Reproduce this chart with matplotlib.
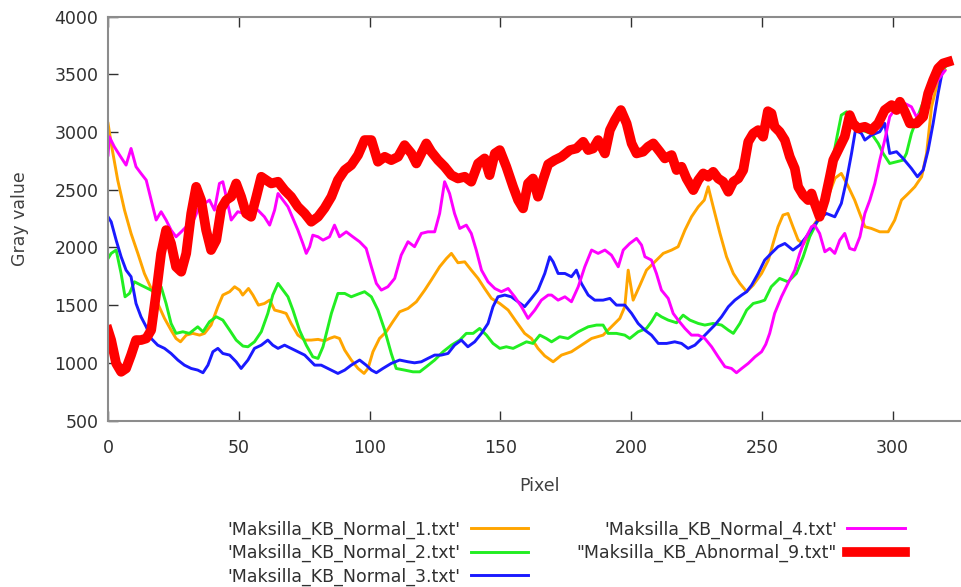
import matplotlib
matplotlib.use("Agg")
import matplotlib.pyplot as plt

# gray value profiles along the maxilla line (pixel position, gray value)
px_n1 = [0, 1.2, 3.7, 6.3, 8.8, 11.4, 13.9, 16.5, 19, 21.6, 24.1, 26, 27.7, 29.9, 32.4, 35, 36.9, 39.4,
         42, 43.9, 46.5, 48.4, 50.3, 51.5, 53.7, 55.4, 57.5, 59.8, 61.8, 63.7, 66.2, 68.1, 70, 72.6,
         75.2, 77.7, 80.3, 82.8, 84.7, 86.6, 88.5, 90.5, 93, 95.6, 97.9, 99.4, 101.3, 103.8, 106.4,
         108.9, 111.5, 114.7, 117.9, 121.1, 123.6, 126.8, 129.4, 131.3, 133.8, 136.4, 138.9, 141.5,
         144, 146.6, 149.8, 153, 156.1, 159.3, 161.9, 164.4, 167, 170.2, 173.4, 177.2, 181, 184.9,
         189.3, 192.5, 195.7, 197.6, 198.9, 200.8, 203.4, 205.9, 209.1, 212.3, 215.5, 218, 220.6,
         223.1, 225.7, 228, 229.5, 231.4, 234, 236.5, 239.1, 241.6, 244.2, 246.7, 249.9, 252.5,
         254.5, 256.2, 258.1, 260, 261.9, 263.9, 266, 269.5, 272, 275, 278, 280.4, 283, 285.5,
         287.5, 289.4, 291.9, 295.1, 298.3, 300.8, 303.4, 306, 308.5, 311.1, 313, 314.9, 316.8,
         318.7, 320]
val_n1 = [3074, 2900, 2583, 2323, 2121, 1948, 1774, 1644, 1514, 1385, 1283, 1211, 1182, 1240, 1255,
          1240, 1255, 1327, 1486, 1587, 1616, 1659, 1630, 1587, 1644, 1587, 1500, 1514, 1543, 1457,
          1442, 1428, 1341, 1240, 1197, 1197, 1203, 1190, 1211, 1226, 1211, 1110, 1024, 951, 908,
          951, 1096, 1211, 1269, 1356, 1442, 1471, 1529, 1630, 1717, 1832, 1904, 1948, 1867, 1875,
          1803, 1731, 1644, 1558, 1514, 1457, 1356, 1255, 1211, 1125, 1060, 1009, 1067, 1096, 1153,
          1211, 1240, 1312, 1385, 1486, 1803, 1543, 1673, 1803, 1875, 1948, 1977, 2006, 2150, 2265,
          2352, 2410, 2525, 2352, 2121, 1919, 1774, 1688, 1616, 1673, 1774, 1890, 2050, 2179, 2280,
          2294, 2179, 2063, 2030, 2180, 2270, 2420, 2600, 2641, 2530, 2410, 2290, 2179, 2164, 2135,
          2135, 2236, 2410, 2467, 2525, 2612, 2814, 3218, 3392, 3507, 3540]

px_n2 = [0, 1.2, 3.1, 5, 6.5, 8.2, 10.1, 12.6, 15.2, 17.7, 20.3, 22.2, 24.1, 26, 28.6, 31.1, 34.3,
         36.3, 38.8, 41.4, 43.9, 46.5, 49, 51.6, 53.5, 56, 58.6, 61.1, 63, 65, 66.9, 68.8, 70.7,
         73.2, 75.8, 78.3, 80.3, 82.2, 85.4, 87.9, 90.5, 93, 95.6, 98.1, 100.7, 103.2, 105.8,
         108.3, 110.2, 113.4, 116.6, 119.2, 121.7, 124.9, 128.1, 131.3, 134.5, 137, 139.6, 142.1,
         144.7, 147.2, 149.8, 152.3, 154.9, 157.4, 160, 162.5, 165.1, 167.6, 169.6, 172.7, 175.9,
         179.8, 183.6, 186.8, 189.3, 191.2, 194.4, 197.6, 199.5, 202.7, 205.9, 207.8, 209.7, 211.6,
         214.2, 217.4, 219.9, 222.5, 225.7, 228.2, 231.4, 234.6, 237.2, 239.1, 241.6, 244.2, 246.7,
         249.3, 251.1, 253.6, 256.8, 260, 263.2, 265.8, 268.3, 271.5, 274.1, 276.6, 278.5, 280.4,
         282.4, 284.9, 288.1, 291.9, 294.5, 296.4, 298.9, 301.5, 304, 305.3, 307.2, 309.1, 311,
         313.6, 316, 318.5, 320]
val_n2 = [1904, 1948, 1977, 1774, 1572, 1601, 1702, 1673, 1644, 1616, 1659, 1514, 1341, 1255, 1269,
          1255, 1312, 1269, 1356, 1399, 1370, 1283, 1197, 1145, 1139, 1182, 1269, 1428, 1587, 1688,
          1630, 1572, 1457, 1283, 1153, 1052, 1038, 1139, 1428, 1601, 1601, 1572, 1595, 1616, 1572,
          1457, 1283, 1081, 951, 937, 922, 922, 966, 1024, 1096, 1153, 1197, 1255, 1255, 1298, 1240,
          1168, 1125, 1139, 1125, 1153, 1182, 1168, 1240, 1211, 1182, 1226, 1211, 1269, 1312, 1327,
          1327, 1255, 1255, 1240, 1211, 1269, 1298, 1356, 1428, 1399, 1370, 1347, 1413, 1370, 1341,
          1327, 1341, 1327, 1283, 1255, 1341, 1457, 1514, 1529, 1543, 1659, 1731, 1702, 1774, 1919,
          2092, 2236, 2439, 2699, 2930, 3146, 3175, 3103, 3016, 2987, 2901, 2814, 2727, 2742, 2756,
          2814, 2987, 3103, 3218, 3363, 3440, 3520, 3560]

px_n3 = [0, 1.2, 3.1, 5, 6.9, 8.8, 10.7, 12.6, 14.6, 16.5, 19, 21.6, 24.1, 26.7, 29.2, 31.8, 34.3,
         36.3, 38.2, 40.1, 42, 43.9, 46.5, 49, 50.9, 53.5, 56, 58.6, 61.1, 63, 65, 67.5, 70, 72.6,
         75.2, 77.1, 79, 81.5, 84.1, 85.4, 87.9, 90.5, 93, 96.2, 98.7, 100.7, 102.6, 105.1, 108.3,
         111.5, 114.7, 117.2, 119.8, 122.3, 124.9, 127.4, 130, 132.5, 135.1, 137.6, 140.2, 142.8,
         145.3, 147.2, 149.1, 151.7, 154.2, 156.8, 159.3, 161.9, 164.4, 167, 168.9, 170.2, 172.1,
         174.7, 177.2, 179.1, 181, 183.6, 186.1, 189.3, 191.9, 194.4, 197.6, 200.2, 202.7, 205.3,
         207.8, 210.4, 213.6, 216.7, 219.3, 221.8, 224.4, 227, 229.5, 232, 234.6, 237.2, 239.7,
         242.3, 244.2, 246.1, 248.6, 251.1, 253.6, 256.2, 258.8, 261.9, 264.5, 267, 269.6, 272.1,
         274.7, 277.9, 280.4, 282.4, 284.3, 285.8, 288.1, 289.4, 291.9, 295.1, 297, 298.9, 301.5,
         304, 307.2, 309.5, 311.7, 313.6, 315.5, 317.4, 319]
val_n3 = [2265, 2222, 2063, 1919, 1803, 1746, 1514, 1399, 1312, 1211, 1153, 1125, 1081, 1024, 980,
          951, 937, 914, 980, 1096, 1125, 1081, 1067, 1009, 951, 1024, 1125, 1153, 1197, 1153, 1125,
          1153, 1125, 1096, 1067, 1024, 980, 980, 951, 937, 908, 937, 980, 1024, 980, 937, 914, 951,
          995, 1024, 1009, 1000, 1009, 1038, 1067, 1067, 1081, 1153, 1197, 1139, 1182, 1255, 1341,
          1486, 1572, 1587, 1572, 1529, 1486, 1558, 1630, 1774, 1919, 1875, 1774, 1774, 1746, 1803,
          1688, 1587, 1543, 1543, 1558, 1500, 1500, 1428, 1341, 1283, 1240, 1168, 1168, 1182, 1168,
          1125, 1153, 1211, 1269, 1327, 1399, 1486, 1543, 1587, 1616, 1673, 1774, 1890, 1948, 2006,
          2034, 1977, 2020, 2092, 2179, 2251, 2294, 2265, 2381, 2583, 2814, 3016, 2987, 2930, 2973,
          3002, 3074, 2814, 2829, 2771, 2684, 2612, 2670, 2843, 3074, 3334, 3522]

px_n4 = [0, 0.5, 2.4, 4.4, 6.9, 8.8, 10.7, 12.6, 14.6, 16.5, 18.4, 20.3, 22.2, 24.1, 26, 28, 29.9,
         31.1, 33, 34.5, 36.9, 38.8, 40.7, 42.6, 43.9, 45.2, 47.1, 49.6, 52.2, 54.7, 57.3, 59.8,
         61.8, 63.7, 65, 66.9, 68.8, 70.7, 72.6, 74.5, 75.8, 77.1, 78.3, 80.3, 82.2, 84.7, 86.6,
         88.5, 91.1, 93.6, 96.2, 98.7, 100.7, 102.6, 104.5, 107, 109.6, 112.1, 114.7, 117.2, 119.8,
         122.3, 124.9, 126.8, 128.7, 130.6, 132.5, 134.5, 137, 138.9, 140.8, 142.8, 145.3, 147.9,
         150.4, 153, 155.5, 158.1, 160.6, 163.2, 165.7, 168.3, 169.6, 172.1, 174.7, 177.2, 179.8,
         182.3, 184.9, 187.4, 190, 192.5, 195.1, 197, 199.5, 202.1, 204, 205.3, 207.8, 209.7, 211.6,
         214.2, 216.1, 218, 220.6, 223.1, 225.7, 228.2, 230.8, 233.3, 235.9, 238.4, 240.3, 242.3,
         244.8, 247.4, 249.9, 251.5, 253, 254.9, 257.5, 260, 262.6, 264.5, 266.4, 269, 270.2, 272.1,
         274.1, 276, 277.9, 279.8, 281.7, 283.6, 285.5, 287.5, 289.4, 291.3, 293.2, 295.1, 297,
         298.9, 301.5, 304.7, 307.2, 309.1, 311.5, 314, 317, 320]
val_n4 = [2800, 2958, 2872, 2800, 2713, 2857, 2699, 2641, 2583, 2410, 2237, 2309, 2237, 2150, 2092,
          2135, 2179, 2193, 2250, 2330, 2381, 2410, 2323, 2554, 2569, 2439, 2237, 2309, 2294, 2352,
          2323, 2265, 2193, 2323, 2467, 2410, 2352, 2251, 2150, 2034, 1948, 2006, 2106, 2092, 2063,
          2092, 2193, 2092, 2135, 2092, 2049, 1991, 1832, 1688, 1630, 1659, 1731, 1933, 2049, 2006,
          2121, 2135, 2135, 2294, 2569, 2467, 2294, 2164, 2193, 2121, 1977, 1803, 1702, 1644, 1616,
          1644, 1572, 1486, 1385, 1457, 1543, 1587, 1587, 1543, 1572, 1529, 1659, 1832, 1977, 1948,
          1977, 1933, 1832, 1977, 2034, 2078, 2020, 1919, 1890, 1774, 1630, 1558, 1428, 1370, 1298,
          1240, 1240, 1211, 1139, 1052, 966, 951, 914, 951, 995, 1052, 1096, 1160, 1255, 1428, 1572,
          1688, 1803, 1948, 2063, 2179, 2193, 2121, 1962, 1991, 1948, 2063, 2121, 1991, 1977, 2092,
          2294, 2410, 2554, 2756, 2930, 3132, 3218, 3247, 3218, 3132, 3180, 3300, 3440, 3530]

px_ab9 = [0, 1.2, 3.1, 5, 6.9, 8.8, 10.7, 12.6, 14.6, 16.5, 18.4, 20.3, 22.2, 24.1, 26, 28, 29.9,
          31.8, 33.7, 35.6, 37.5, 39.4, 41.4, 43.3, 45.2, 47.1, 49, 50.9, 52.8, 54.7, 56.7, 58.6,
          60.5, 62.4, 65, 67.5, 70, 72.6, 75.2, 77.7, 80.3, 82.8, 85.4, 87.9, 90.5, 93, 95.6, 98.1,
          100.7, 103.2, 105.8, 108.3, 110.9, 113.4, 116, 117.9, 119.8, 121.7, 123.6, 126.2, 128.7,
          131.3, 133.8, 136.4, 138.9, 141.5, 144, 145.9, 147.9, 149.8, 152.3, 154.9, 156.8, 158.7,
          160.6, 162.5, 164.4, 166.3, 168.3, 170.8, 173.4, 176.6, 179.1, 181.7, 183.6, 185.5, 187.4,
          190, 191.9, 193.8, 196.1, 198.3, 200.2, 202.1, 204.6, 206.5, 208.5, 211, 212.9, 215.5,
          217.4, 219.3, 221.2, 223.8, 225.7, 227.6, 229.5, 231.4, 233.3, 235.2, 237.2, 239.1, 241,
          242.9, 244.8, 246.7, 248.6, 250.5, 252.3, 253.7, 254.9, 256.8, 258.8, 260.7, 262.6, 263.9,
          265.8, 267.7, 269, 270.2, 272.1, 274.1, 276, 277.3, 279.2, 281.7, 283.6, 284.9, 286.8,
          289.4, 291.9, 294.5, 297, 299.6, 301.5, 302.8, 304.7, 306.6, 309.1, 311.7, 313.6, 315.5,
          317.4, 319.3, 321.3]
val_ab9 = [1283, 1197, 995, 922, 951, 1067, 1197, 1197, 1211, 1283, 1601, 1948, 2150, 2034, 1832,
           1789, 1948, 2294, 2525, 2410, 2150, 1977, 2063, 2338, 2410, 2439, 2554, 2439, 2294, 2265,
           2439, 2612, 2583, 2554, 2569, 2496, 2439, 2352, 2294, 2222, 2265, 2340, 2439, 2583, 2670,
           2713, 2800, 2930, 2930, 2742, 2785, 2756, 2785, 2886, 2814, 2727, 2814, 2901, 2829, 2756,
           2699, 2626, 2597, 2612, 2569, 2727, 2771, 2626, 2814, 2843, 2699, 2525, 2410, 2338, 2554,
           2597, 2439, 2583, 2720, 2756, 2785, 2843, 2857, 2915, 2843, 2857, 2930, 2814, 3016, 3103,
           3190, 3074, 2901, 2814, 2829, 2872, 2901, 2829, 2771, 2800, 2670, 2699, 2597, 2496, 2583,
           2641, 2612, 2655, 2597, 2569, 2482, 2569, 2597, 2670, 2915, 2987, 3016, 2959, 3180, 3161,
           3045, 3002, 2930, 2785, 2684, 2525, 2453, 2410, 2467, 2381, 2265, 2410, 2612, 2756, 2843,
           2959, 3146, 3074, 3031, 3045, 3016, 3074, 3190, 3233, 3190, 3262, 3175, 3074, 3074, 3132,
           3334, 3450, 3551, 3594, 3608]

labels = ["'Maksilla_KB_Normal_1.txt'", "'Maksilla_KB_Normal_2.txt'",
          "'Maksilla_KB_Normal_3.txt'", "'Maksilla_KB_Normal_4.txt'",
          '"Maksilla_KB_Abnormal_9.txt"']
colors = ["#ffa500", "#22ee22", "#1a1aff", "#ff00ff", "#ff0000"]

plt.rcParams["font.family"] = "DejaVu Sans"
plt.rcParams["font.size"] = 12.5

fig = plt.figure(figsize=(9.62, 5.87), dpi=100)
ax = fig.add_axes([0.1123, 0.2836, 0.8971, 0.6882])

series = [(px_n1, val_n1), (px_n2, val_n2), (px_n3, val_n3), (px_n4, val_n4), (px_ab9, val_ab9)]
for (xs, ys), lab, col in zip(series, labels, colors):
    lw = 7.0 if "Abnormal" in lab else 2.1
    ax.plot(xs, ys, color=col, lw=lw, label=lab, solid_joinstyle="round")

ax.set_xlim(0, 330)
ax.set_ylim(500, 4000)
ax.set_xticks(range(0, 301, 50))
ax.set_yticks(range(500, 4001, 500))
ax.tick_params(direction="in", top=True, right=True, length=7.5, width=1,
               color="#303030", labelcolor="#303030")
ax.tick_params(axis="x", pad=13)
ax.tick_params(axis="y", pad=7)
for sp in ax.spines.values():
    sp.set_color("#8c8c8c")
    sp.set_linewidth(1.5)

ax.set_xlabel("Pixel", color="#404040", labelpad=15)
ax.set_ylabel("Gray value", color="#404040", labelpad=18)

fig.legend(loc="center", bbox_to_anchor=(566 / 962, 1 - 553 / 587), ncol=2,
           markerfirst=False, frameon=False, handlelength=3.3, handletextpad=0.6,
           columnspacing=2.8, labelspacing=0.3, labelcolor="#303030")

fig.savefig("out.png", dpi=100)
